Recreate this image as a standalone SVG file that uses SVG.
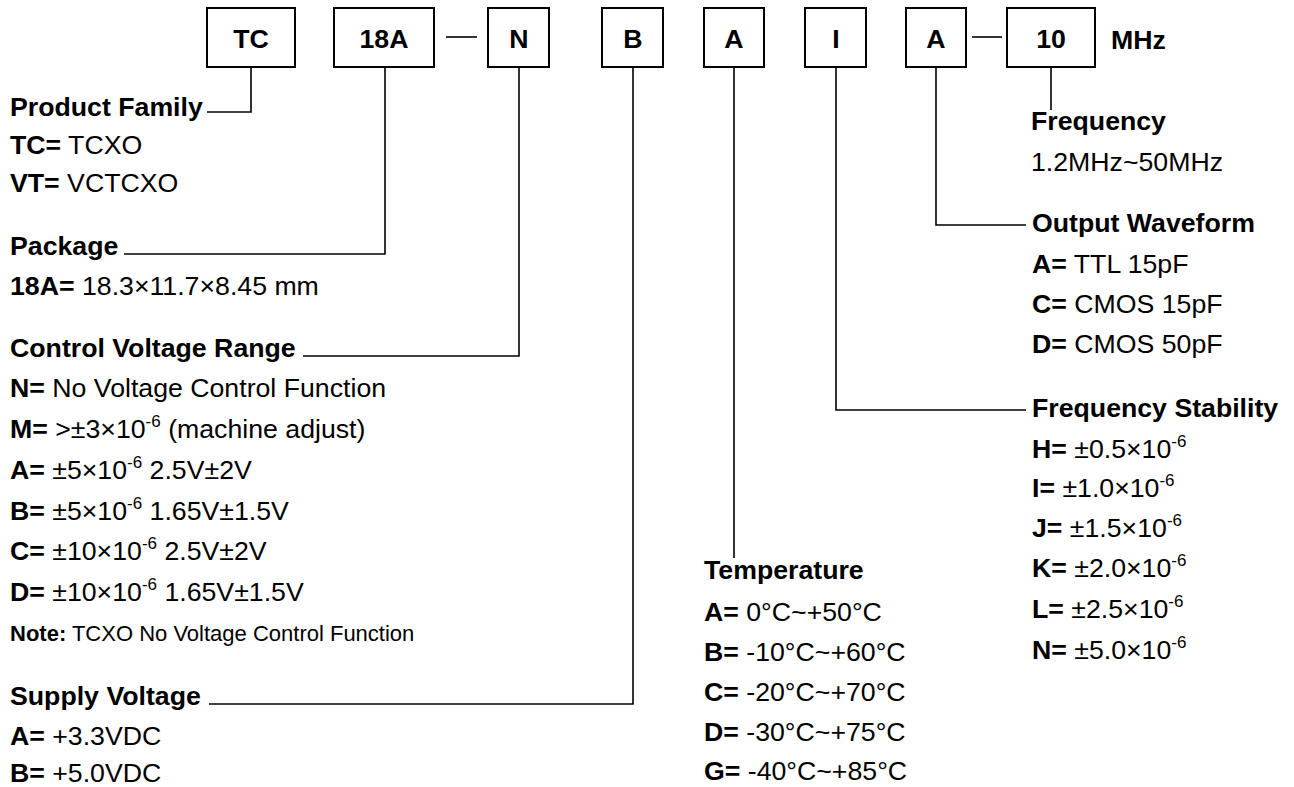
<svg xmlns="http://www.w3.org/2000/svg" width="1294" height="787" viewBox="0 0 1294 787">
<style>
text{font-family:"Liberation Sans",Arial,sans-serif;font-size:26.7px;fill:#000}
.b{font-weight:bold}
.c{text-anchor:middle;font-weight:bold}
.note{font-size:22px}
.sup{font-size:17px}
.box{fill:#fff;stroke:#000;stroke-width:2}
.ln{fill:none;stroke:#000;stroke-width:1.6}
</style>
<rect width="1294" height="787" fill="#fff"/>
<g id="connectors">
<path class="ln" d="M251 67V112H207"/>
<path class="ln" d="M385 67V254H124"/>
<path class="ln" d="M519 67V356H303"/>
<path class="ln" d="M633 67V704H209"/>
<path class="ln" d="M734 67V558"/>
<path class="ln" d="M836 67V410H1026"/>
<path class="ln" d="M936 67V225H1026"/>
<path class="ln" d="M1051 67V110"/>
<path class="ln" d="M446 37H477"/>
<path class="ln" d="M972 37H1002"/>
</g>
<g id="box-tc"><rect class="box" x="207" y="8" width="88" height="59"/><text class="c" x="251" y="48">TC</text></g>
<g id="box-18a"><rect class="box" x="334" y="8" width="100" height="59"/><text class="c" x="384" y="48">18A</text></g>
<g id="box-n"><rect class="box" x="488" y="8" width="61" height="59"/><text class="c" x="519" y="48">N</text></g>
<g id="box-b"><rect class="box" x="602" y="8" width="61" height="59"/><text class="c" x="633" y="48">B</text></g>
<g id="box-a1"><rect class="box" x="704" y="8" width="60" height="59"/><text class="c" x="734" y="48">A</text></g>
<g id="box-i"><rect class="box" x="805" y="8" width="61" height="59"/><text class="c" x="836" y="48">I</text></g>
<g id="box-a2"><rect class="box" x="906" y="8" width="60" height="59"/><text class="c" x="936" y="48">A</text></g>
<g id="box-10"><rect class="box" x="1007" y="8" width="88" height="59"/><text class="c" x="1051" y="48">10</text></g>
<g id="unit"><text class="b" x="1111" y="49">MHz</text></g>
<g id="product-family">
<text class="b" x="10" y="116">Product Family</text>
<text x="10" y="154"><tspan class="b">TC=</tspan> TCXO</text>
<text x="10" y="192"><tspan class="b">VT=</tspan> VCTCXO</text>
</g>
<g id="package">
<text class="b" x="10" y="255">Package</text>
<text x="10" y="295"><tspan class="b">18A=</tspan> 18.3×11.7×8.45 mm</text>
</g>
<g id="control-voltage">
<text class="b" x="10" y="357">Control Voltage Range</text>
<text x="10" y="397"><tspan class="b">N=</tspan> No Voltage Control Function</text>
<text x="10" y="438"><tspan class="b">M=</tspan> &gt;±3×10<tspan class="sup" dy="-11">-6</tspan><tspan dy="11"> (machine adjust)</tspan></text>
<text x="10" y="479"><tspan class="b">A=</tspan> ±5×10<tspan class="sup" dy="-11">-6</tspan><tspan dy="11"> 2.5V±2V</tspan></text>
<text x="10" y="520"><tspan class="b">B=</tspan> ±5×10<tspan class="sup" dy="-11">-6</tspan><tspan dy="11"> 1.65V±1.5V</tspan></text>
<text x="10" y="560"><tspan class="b">C=</tspan> ±10×10<tspan class="sup" dy="-11">-6</tspan><tspan dy="11"> 2.5V±2V</tspan></text>
<text x="10" y="601"><tspan class="b">D=</tspan> ±10×10<tspan class="sup" dy="-11">-6</tspan><tspan dy="11"> 1.65V±1.5V</tspan></text>
<text class="note" x="10" y="641"><tspan class="b">Note:</tspan> TCXO No Voltage Control Function</text>
</g>
<g id="supply-voltage">
<text class="b" x="10" y="705">Supply Voltage</text>
<text x="10" y="745"><tspan class="b">A=</tspan> +3.3VDC</text>
<text x="10" y="782"><tspan class="b">B=</tspan> +5.0VDC</text>
</g>
<g id="temperature">
<text class="b" x="704" y="579">Temperature</text>
<text x="704" y="621"><tspan class="b">A=</tspan> 0°C~+50°C</text>
<text x="704" y="661"><tspan class="b">B=</tspan> -10°C~+60°C</text>
<text x="704" y="701"><tspan class="b">C=</tspan> -20°C~+70°C</text>
<text x="704" y="741"><tspan class="b">D=</tspan> -30°C~+75°C</text>
<text x="704" y="780"><tspan class="b">G=</tspan> -40°C~+85°C</text>
</g>
<g id="frequency">
<text class="b" x="1031" y="130">Frequency</text>
<text x="1031" y="171">1.2MHz~50MHz</text>
</g>
<g id="output-waveform">
<text class="b" x="1032" y="232">Output Waveform</text>
<text x="1032" y="273"><tspan class="b">A=</tspan> TTL 15pF</text>
<text x="1032" y="313"><tspan class="b">C=</tspan> CMOS 15pF</text>
<text x="1032" y="353"><tspan class="b">D=</tspan> CMOS 50pF</text>
</g>
<g id="frequency-stability">
<text class="b" x="1032" y="417">Frequency Stability</text>
<text x="1032" y="458"><tspan class="b">H=</tspan> ±0.5×10<tspan class="sup" dy="-11">-6</tspan></text>
<text x="1032" y="497"><tspan class="b">I=</tspan> ±1.0×10<tspan class="sup" dy="-11">-6</tspan></text>
<text x="1032" y="537"><tspan class="b">J=</tspan> ±1.5×10<tspan class="sup" dy="-11">-6</tspan></text>
<text x="1032" y="577"><tspan class="b">K=</tspan> ±2.0×10<tspan class="sup" dy="-11">-6</tspan></text>
<text x="1032" y="618"><tspan class="b">L=</tspan> ±2.5×10<tspan class="sup" dy="-11">-6</tspan></text>
<text x="1032" y="659"><tspan class="b">N=</tspan> ±5.0×10<tspan class="sup" dy="-11">-6</tspan></text>
</g>
</svg>
